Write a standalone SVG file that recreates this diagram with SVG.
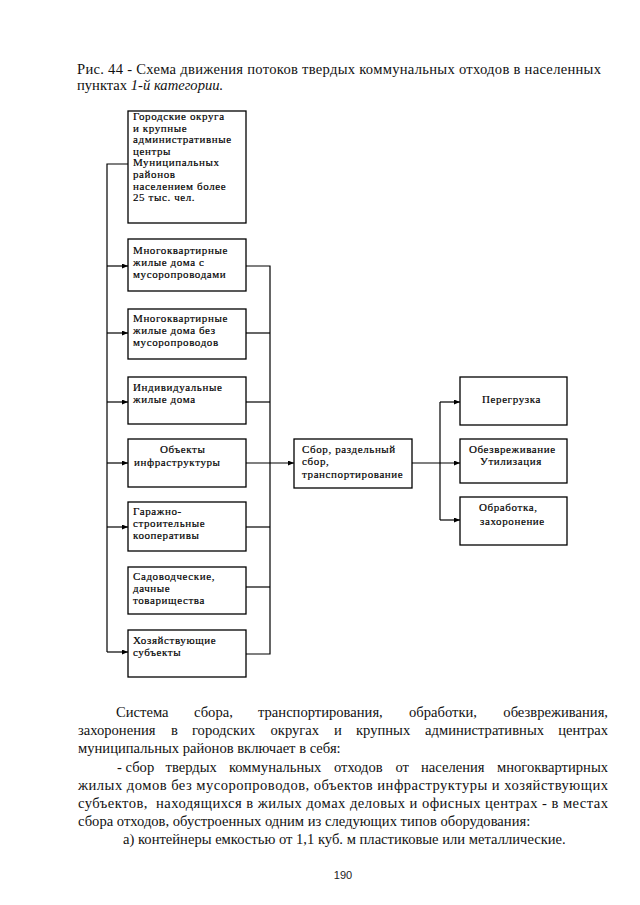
<svg xmlns="http://www.w3.org/2000/svg" width="640" height="905" viewBox="0 0 640 905">
<defs>
<marker id="arr" markerUnits="userSpaceOnUse" markerWidth="7" markerHeight="6" refX="6" refY="2.5" orient="auto">
<path d="M0,0 L6,2.5 L0,5 z" fill="#000"/>
</marker>
<style>
.box{fill:#fff;stroke:#000;stroke-width:1.3}
.bt{font-family:"Liberation Serif","Times New Roman",serif;font-size:11px;letter-spacing:0.6px;fill:#000;stroke:#000;stroke-width:0.18}
.tx{font-family:"Liberation Serif","Times New Roman",serif;font-size:14.6px;fill:#111}
.ln{fill:none;stroke:#000;stroke-width:1.2}
.la{fill:none;stroke:#000;stroke-width:1.2;marker-end:url(#arr)}
</style>
</defs>
<rect width="640" height="905" fill="#fff"/>

<g id="caption">
<text class="tx" x="77" y="74" textLength="524" lengthAdjust="spacing">Рис. 44 - Схема движения потоков твердых коммунальных отходов в населенных</text>
<text class="tx" x="77" y="90">пунктах <tspan font-style="italic">1-й категории.</tspan></text>
</g>

<g id="connectors">
<polyline class="ln" points="128,164 107,164 107,652"/>
<line class="la" x1="107" y1="266" x2="128" y2="266"/>
<line class="la" x1="107" y1="333" x2="128" y2="333"/>
<line class="la" x1="107" y1="402" x2="128" y2="402"/>
<line class="la" x1="107" y1="463" x2="128" y2="463"/>
<line class="la" x1="107" y1="527" x2="128" y2="527"/>
<line class="la" x1="107" y1="652" x2="128" y2="652"/>
<polyline class="ln" points="246,266 270,266 270,654 246,654"/>
<line class="ln" x1="246" y1="333" x2="270" y2="333"/>
<line class="ln" x1="246" y1="402" x2="270" y2="402"/>
<line class="ln" x1="246" y1="527" x2="270" y2="527"/>
<line class="ln" x1="246" y1="587" x2="270" y2="587"/>
<line class="la" x1="246" y1="463" x2="294" y2="463"/>
<line class="la" x1="412" y1="463" x2="460" y2="463"/>
<line class="ln" x1="440" y1="402" x2="440" y2="520"/>
<line class="la" x1="440" y1="402" x2="460" y2="402"/>
<line class="la" x1="440" y1="520" x2="460" y2="520"/>
</g>

<g id="n1"><rect class="box" x="128" y="111" width="118" height="112"/>
<text class="bt" x="133" y="120">Городские округа</text>
<text class="bt" x="133" y="131.6">и крупные</text>
<text class="bt" x="133" y="143.2">административные</text>
<text class="bt" x="133" y="154.8">центры</text>
<text class="bt" x="133" y="166.4">Муниципальных</text>
<text class="bt" x="133" y="178">районов</text>
<text class="bt" x="133" y="189.6">населением более</text>
<text class="bt" x="133" y="201.2">25 тыс. чел.</text>
</g>
<g id="n2"><rect class="box" x="128" y="239" width="118" height="52"/>
<text class="bt" x="133" y="253.5">Многоквартирные</text>
<text class="bt" x="133" y="265.5">жилые дома с</text>
<text class="bt" x="133" y="277.5">мусоропроводами</text>
</g>
<g id="n3"><rect class="box" x="128" y="309" width="118" height="50"/>
<text class="bt" x="133" y="322">Многоквартирные</text>
<text class="bt" x="133" y="334">жилые дома без</text>
<text class="bt" x="133" y="346">мусоропроводов</text>
</g>
<g id="n4"><rect class="box" x="128" y="377" width="118" height="47"/>
<text class="bt" x="133" y="391">Индивидуальные</text>
<text class="bt" x="133" y="403">жилые дома</text>
</g>
<g id="n5"><rect class="box" x="128" y="439" width="118" height="48"/>
<text class="bt" x="160" y="453">Объекты</text>
<text class="bt" x="134" y="466">инфраструктуры</text>
</g>
<g id="n6"><rect class="box" x="128" y="502" width="118" height="49"/>
<text class="bt" x="133" y="515">Гаражно-</text>
<text class="bt" x="133" y="527">строительные</text>
<text class="bt" x="133" y="539">кооперативы</text>
</g>
<g id="n7"><rect class="box" x="128" y="567" width="118" height="47"/>
<text class="bt" x="133" y="580">Садоводческие,</text>
<text class="bt" x="133" y="592">дачные</text>
<text class="bt" x="133" y="604">товарищества</text>
</g>
<g id="n8"><rect class="box" x="128" y="630" width="118" height="47"/>
<text class="bt" x="133" y="644">Хозяйствующие</text>
<text class="bt" x="133" y="656">субъекты</text>
</g>
<g id="n9"><rect class="box" x="294" y="439" width="118" height="49"/>
<text class="bt" x="302" y="452.5">Сбор, раздельный</text>
<text class="bt" x="302" y="465">сбор,</text>
<text class="bt" x="302" y="477.5">транспортирование</text>
</g>
<g id="n10"><rect class="box" x="460" y="377" width="107" height="48"/>
<text class="bt" x="482" y="403">Перегрузка</text>
</g>
<g id="n11"><rect class="box" x="460" y="439" width="107" height="44"/>
<text class="bt" x="469" y="453">Обезвреживание</text>
<text class="bt" x="480" y="465">Утилизация</text>
</g>
<g id="n12"><rect class="box" x="460" y="497" width="107" height="48"/>
<text class="bt" x="479" y="510.5">Обработка,</text>
<text class="bt" x="480" y="525">захоронение</text>
</g>

<g id="body">
<text class="tx" x="116" y="717">Система</text>
<text class="tx" x="194" y="717">сбора,</text>
<text class="tx" x="258" y="717">транспортирования,</text>
<text class="tx" x="409" y="717">обработки,</text>
<text class="tx" x="608" y="717" text-anchor="end">обезвреживания,</text>
<text class="tx" x="78" y="735.2">захоронения</text>
<text class="tx" x="171" y="735.2">в</text>
<text class="tx" x="192" y="735.2">городских</text>
<text class="tx" x="270.5" y="735.2">округах</text>
<text class="tx" x="334" y="735.2">и</text>
<text class="tx" x="356" y="735.2">крупных</text>
<text class="tx" x="425" y="735.2">административных</text>
<text class="tx" x="608" y="735.2" text-anchor="end">центрах</text>
<text class="tx" x="78" y="753.4">муниципальных районов включает в себя:</text>
<text class="tx" x="117" y="771.6">- сбор</text>
<text class="tx" x="165.5" y="771.6">твердых</text>
<text class="tx" x="229" y="771.6">коммунальных</text>
<text class="tx" x="334" y="771.6">отходов</text>
<text class="tx" x="395.5" y="771.6">от</text>
<text class="tx" x="421" y="771.6">населения</text>
<text class="tx" x="608" y="771.6" text-anchor="end">многоквартирных</text>
<text class="tx" x="78" y="789.8" textLength="530" lengthAdjust="spacing">жилых домов без мусоропроводов, объектов инфраструктуры и хозяйствующих</text>
<text class="tx" x="78" y="808" textLength="530" lengthAdjust="spacing" xml:space="preserve">субъектов,  находящихся в жилых домах деловых и офисных центрах - в местах</text>
<text class="tx" x="78" y="826.2">сбора отходов, обустроенных одним из следующих типов оборудования:</text>
<text class="tx" x="123" y="844.4">а) контейнеры емкостью от 1,1 куб. м пластиковые или металлические.</text>
<text x="343" y="879" text-anchor="middle" font-family="'Liberation Sans',Arial,sans-serif" font-size="11" fill="#222">190</text>
</g>
</svg>
